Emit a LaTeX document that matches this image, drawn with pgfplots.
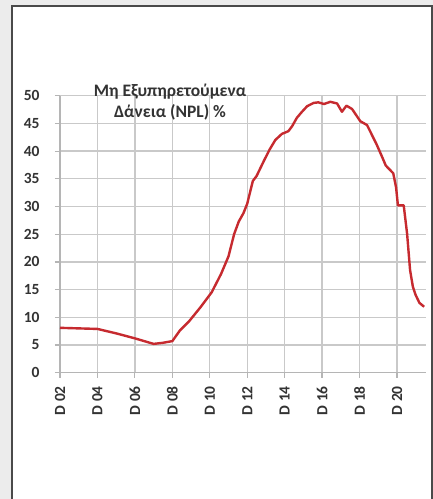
\documentclass[border=0pt]{standalone}
\usepackage{fontspec}
\setmainfont{Carlito}
\usepackage{pgfplots}
\pgfplotsset{compat=1.18}

\definecolor{npl}{HTML}{C62A2F}
\definecolor{gridc}{HTML}{C9C9C9}
\definecolor{axisc}{HTML}{B5B5B5}
\definecolor{txt}{HTML}{333333}
\definecolor{panel}{HTML}{ECECEC}
\definecolor{frame}{HTML}{4A4A4A}

\begin{document}
\begin{tikzpicture}[x=1pt,y=1pt]
  % panel background and white frame (1pt = 1px of the reference)
  \useasboundingbox (0,0) rectangle (433,499);
  \fill[panel] (0,0) rectangle (433,499);
  \fill[white] (12,0) rectangle (432,493);
  \draw[frame, line width=1.2pt] (12,0) -- (12,493) -- (432,493) -- (432,0);

  \begin{axis}[
      at={(60pt,126.3pt)}, anchor=south west,
      scale only axis,
      width=366pt, height=277pt,
      xmin=2, xmax=21.55,
      ymin=0, ymax=50,
      xtick={2,4,...,20},
      xticklabels={D 02,D 04,D 06,D 08,D 10,D 12,D 14,D 16,D 18,D 20},
      ytick={0,5,...,50},
      axis x line*=bottom, axis y line*=left,
      axis line style={axisc, line width=1.2pt, -},
      tick style={axisc, line width=1.2pt},
      tick align=outside,
      major tick length=5pt,
      grid=major,
      major grid style={gridc, line width=1.3pt},
      /pgf/number format/assume math mode=true,
      ticklabel style={font=\fontsize{15.5}{17}\selectfont\bfseries, text=txt},
      % after rotate=90 a negative xshift moves the label down
      xticklabel style={rotate=90, anchor=east, xshift=-5pt},
      xtick pos=bottom, ytick pos=left,
      yticklabel style={xshift=-12pt},
      clip=false,
    ]
    \addplot[npl, line width=2.4pt, line join=round] coordinates {
      (2.0,8.1) (3.0,8.0) (4.0,7.9) (5.0,7.1) (6.0,6.2) (7.0,5.2)
      (7.5,5.4) (8.0,5.7) (8.4,7.6) (8.9,9.3) (9.5,11.8) (10.1,14.5)
      (10.6,17.8) (11.0,21.0) (11.3,25.0) (11.55,27.3) (11.8,28.8)
      (12.0,30.5) (12.3,34.6) (12.5,35.5) (12.9,38.3) (13.2,40.3)
      (13.5,42.0) (13.85,43.1) (14.2,43.6) (14.4,44.5) (14.65,46.0)
      (14.9,47.0) (15.2,48.1) (15.55,48.7) (15.8,48.8) (16.1,48.5)
      (16.44,48.9) (16.8,48.6) (17.06,47.1) (17.3,48.2) (17.6,47.6)
      (17.8,46.6) (18.04,45.4) (18.4,44.7) (18.9,41.3) (19.2,39.0)
      (19.4,37.4) (19.8,36.0) (19.95,33.5) (20.05,30.2) (20.36,30.2)
      (20.54,25.1) (20.7,18.5) (20.85,15.5) (21.0,14.0) (21.2,12.6)
      (21.45,11.9)
    };
  \end{axis}

  \node[txt, align=center, font=\fontsize{17.5}{21}\selectfont\bfseries, anchor=base]
    at (170,381) {Μη Εξυπηρετούμενα\\Δάνεια (NPL) \%};
\end{tikzpicture}
\end{document}
